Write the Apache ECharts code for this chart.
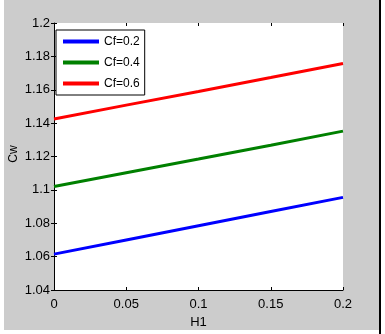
<!DOCTYPE html>
<html>
<head>
<meta charset="utf-8">
<script src="https://cdn.jsdelivr.net/npm/echarts@6/dist/echarts.min.js"></script>
<style>
html,body{margin:0;padding:0;background:#fff;}
#c{width:385px;height:334px;}
</style>
</head>
<body>
<div id="c"></div>
<script>
var xValues = [0, 0.05, 0.1, 0.15, 0.2];
var seriesNames = ['Cf=0.2', 'Cf=0.4', 'Cf=0.6'];
var cf02 = [1.0615, 1.0700, 1.0785, 1.0870, 1.0955];
var cf04 = [1.1020, 1.1103, 1.1185, 1.1268, 1.1352];
var cf06 = [1.1425, 1.1508, 1.1590, 1.1673, 1.1757];
var colors = ['#0000ff', '#008000', '#ff0000'];
var FONT = '"Liberation Sans", Arial, sans-serif';

function pairs(ys){ return xValues.map(function(x,i){ return [x, ys[i]]; }); }
function fmt(v){ return String(parseFloat(v.toFixed(2))); }

var chart = echarts.init(document.getElementById('c'), null, {renderer:'canvas'});
chart.setOption({
  backgroundColor: '#ffffff',
  animation: false,
  graphic: [
    {type:'rect', shape:{x:4, y:0, width:375, height:330}, style:{fill:'#cccccc'}, z:-10, silent:true},
    {type:'rect', shape:{x:54, y:23, width:289, height:267}, style:{fill:'#ffffff'}, z:-9, silent:true},
    {type:'rect', shape:{x:379, y:0, width:2, height:334}, style:{fill:'#000000'}, z:-8, silent:true},
    {type:'text', x:14, y:154, rotation:Math.PI/2, silent:true,
     style:{text:'Cw', fill:'#000', font:'12px "Liberation Sans", Arial, sans-serif', align:'center', verticalAlign:'middle'}}
  ],
  grid: {left:54, right:42, top:23, bottom:44, containLabel:false},
  legend: {
    data: seriesNames,
    left: 56, top: 30,
    orient: 'vertical',
    backgroundColor: '#ffffff',
    borderColor: '#000', borderWidth: 1, borderRadius: 0,
    padding: [5, 5, 5, 7],
    itemWidth: 36, itemHeight: 4, itemGap: 8,
    icon: 'rect',
    textStyle: {fontFamily: FONT, fontSize: 12, color:'#000', lineHeight:13}
  },
  xAxis: [
    {type:'value', min:0, max:0.2, interval:0.05, position:'bottom',
     name:'H1', nameLocation:'middle', nameGap:26,
     nameTextStyle:{fontFamily:FONT, fontSize:13, color:'#000'},
     axisLine:{show:true, onZero:false, lineStyle:{color:'#000', width:1}},
     axisTick:{show:true, inside:true, length:3, lineStyle:{color:'#000'}},
     axisLabel:{fontFamily:FONT, fontSize:13, color:'#000', margin:8, formatter:fmt},
     splitLine:{show:false}},
    {type:'value', min:0, max:0.2, interval:0.05, position:'top',
     axisLine:{show:false},
     axisTick:{show:true, inside:true, length:3, lineStyle:{color:'#000'}},
     axisLabel:{show:false}, splitLine:{show:false}}
  ],
  yAxis: [
    {type:'value', min:1.04, max:1.2, interval:0.02, position:'left',
     axisLine:{show:true, onZero:false, lineStyle:{color:'#000', width:1}},
     axisTick:{show:true, inside:true, length:3, lineStyle:{color:'#000'}},
     axisLabel:{fontFamily:FONT, fontSize:13, color:'#000', margin:4, formatter:fmt},
     splitLine:{show:false}},
    {type:'value', min:1.04, max:1.2, interval:0.02, position:'right',
     axisLine:{show:false},
     axisTick:{show:true, inside:true, length:3, lineStyle:{color:'#000'}},
     axisLabel:{show:false}, splitLine:{show:false}}
  ],
  series: [
    {name:seriesNames[0], type:'line', data:pairs(cf02), showSymbol:false, symbol:'none', lineStyle:{color:colors[0], width:3}, itemStyle:{color:colors[0]}},
    {name:seriesNames[1], type:'line', data:pairs(cf04), showSymbol:false, symbol:'none', lineStyle:{color:colors[1], width:3}, itemStyle:{color:colors[1]}},
    {name:seriesNames[2], type:'line', data:pairs(cf06), showSymbol:false, symbol:'none', lineStyle:{color:colors[2], width:3}, itemStyle:{color:colors[2]}}
  ]
});
</script>
</body>
</html>
